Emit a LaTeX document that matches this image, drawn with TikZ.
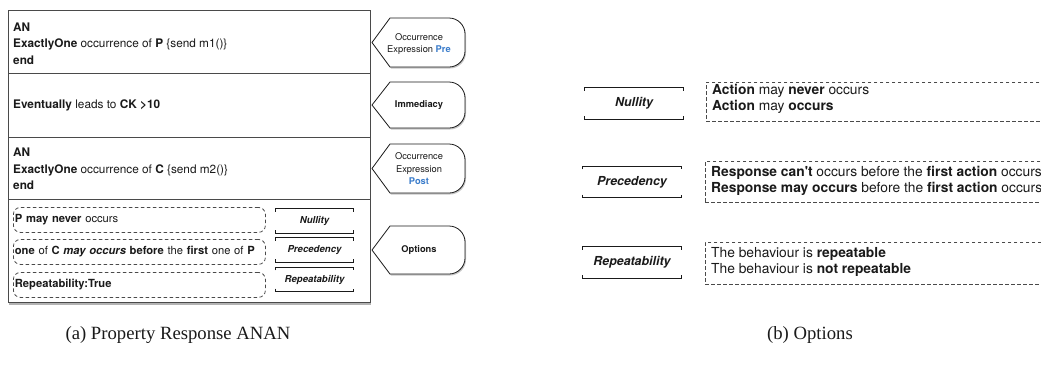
\documentclass[tikz,border=0pt]{standalone}
\usepackage{fontspec}
\newfontfamily\hv{TeX Gyre Heros}
\newfontfamily\capfont{Liberation Serif}
\usetikzlibrary{shadows}
\definecolor{edge}{HTML}{4A4A4A}
\definecolor{kwblue}{HTML}{3A7CCB}
\definecolor{ink}{HTML}{1A1A1A}

% left-pointing tag with a rounded right side: #1 top, #2 bottom
\newcommand\tagshape[2]{%
  \path[tagbox] (372,{(#1+#2)/2}) -- (390,#1) -- (449,#1)
    .. controls (457.8,#1) and (465,{#1+7.2}) .. (465,{#1+16})
    -- (465,{#2-16})
    .. controls (465,{#2-7.2}) and (457.8,#2) .. (449,#2)
    -- (390,#2) -- cycle;}

% top and bottom brackets of an option box
\newcommand\brackets[1]{%
  \draw[brk] ([yshift=-3pt]#1.north west) -- (#1.north west) -- (#1.north east) -- ([yshift=-3pt]#1.north east);
  \draw[brk] ([yshift=3pt]#1.south west) -- (#1.south west) -- (#1.south east) -- ([yshift=3pt]#1.south east);}

\begin{document}
\begin{tikzpicture}[x=1pt,y=-1pt,
  panel/.style={draw=edge, line width=0.7pt},
  tagbox/.style={draw=ink, line width=0.8pt, fill=white,
    drop shadow={shadow xshift=1pt, shadow yshift=-1.5pt, opacity=0.45}},
  tagtext/.style={font=\hv\fontsize{9.3}{12.5}\selectfont, align=center, inner sep=0, text=ink},
  body/.style={font=\hv\fontsize{11.8}{16.5}\selectfont, anchor=west, align=left, inner sep=0, text=ink},
  rbody/.style={font=\hv\fontsize{13.8}{16}\selectfont, anchor=north west, align=left, inner sep=0, text=ink},
  lopt/.style={font=\hv\bfseries\itshape\fontsize{9.6}{11}\selectfont, minimum width=77pt, minimum height=24pt, inner sep=0, text=ink},
  ropt/.style={font=\hv\bfseries\itshape\fontsize{12.4}{14}\selectfont, minimum width=99pt, minimum height=31pt, inner sep=0, text=ink},
  brk/.style={draw=ink, line width=1pt},
  ldash/.style={draw=edge, dashed, dash pattern=on 3.5pt off 2.5pt, line width=0.8pt, rounded corners=7pt,
    font=\hv\fontsize{11.2}{14}\selectfont, text width=249pt, align=left, inner xsep=1.5pt, inner ysep=0,
    minimum height=25pt, anchor=north west, text=ink},
  rdash/.style={draw=edge, dashed, dash pattern=on 3.5pt off 2.5pt, line width=0.8pt, anchor=north west, inner sep=0},
  caption/.style={font=\capfont\fontsize{18.7}{22}\selectfont, inner sep=0, text=ink}
]
\useasboundingbox (0,0) rectangle (1041,368);
\clip (0,0) rectangle (1041,368);

% ---------- (a) property panel ----------
\path[draw=edge, line width=0.7pt, fill=white,
  drop shadow={shadow xshift=1pt, shadow yshift=-2.5pt, opacity=0.6}]
  (8,10) rectangle (370,302);
\draw[panel] (8,73) -- (370,73);
\draw[panel] (8,137) -- (370,137);
\draw[panel] (8,199) -- (370,199);

\node[body] (pre) at (13,43.5)
  {\bfseries AN\\ \textbf{ExactlyOne} occurrence of \textbf{P} \{send m1()\}\\ \bfseries end};
\node[body] (imm) at (13,105) {\textbf{Eventually} leads to \textbf{CK >10}};
\node[body] (post) at (13,169)
  {\bfseries AN\\ \textbf{ExactlyOne} occurrence of \textbf{C} \{send m2()\}\\ \bfseries end};

\node[ldash] (o1) at (13,207) {\textbf{P may never} occurs};
\node[ldash] (o2) at (13,239) {\textbf{one} of \textbf{C} \textbf{\itshape may occurs} \textbf{before} the \textbf{first} one of \textbf{P}};
\node[ldash] (o3) at (13,272) {\textbf{Repeatability:True}};

\node[lopt] (ln) at (314.5,221) {Nullity};
\node[lopt] (lp) at (314.5,250) {Precedency};
\node[lopt] (lr) at (314.5,279.5) {Repeatability};
\brackets{ln}
\brackets{lp}
\brackets{lr}

% tags on the right side of the panel
\tagshape{18}{67}
\tagshape{82}{128}
\tagshape{144}{193}
\tagshape{226}{274}
\node[tagtext] (tpre) at (419,44) {Occurrence\\Expression \textbf{\color{kwblue}Pre}};
\node[tagtext, font=\hv\bfseries\fontsize{9.3}{12.5}\selectfont] (timm) at (419,105.5) {Immediacy};
\node[tagtext] (tpost) at (419,169) {Occurrence\\Expression\\\textbf{\color{kwblue}Post}};
\node[tagtext, font=\hv\bfseries\fontsize{9.3}{12.5}\selectfont] (topt) at (419,250.5) {Options};

% ---------- (b) options panel ----------
\node[ropt] (rn) at (634,103.5) {Nullity};
\node[ropt] (rp) at (632,182) {Precedency};
\node[ropt] (rr) at (632,262.5) {Repeatability};
\brackets{rn}
\brackets{rp}
\brackets{rr}

\node[rdash, minimum width=360pt, minimum height=39pt] (dn) at (706,82) {};
\node[rbody] (tn) at (712,84.5) {\textbf{Action} may \textbf{never} occurs\\ \textbf{Action} may \textbf{occurs}};
\node[rdash, minimum width=360pt, minimum height=41pt] (dp) at (705,161) {};
\node[rbody] (tp) at (711,166) {\textbf{Response can't} occurs before the \textbf{first action} occurs\\ \textbf{Response may occurs} before the \textbf{first action} occurs};
\node[rdash, minimum width=360pt, minimum height=42pt] (dr) at (705,242) {};
\node[rbody] (tr) at (711,247) {The behaviour is \textbf{repeatable}\\ The behaviour is \textbf{not repeatable}};

% ---------- captions ----------
\node[caption] (capa) at (178,335) {(a) Property Response ANAN};
\node[caption] (capb) at (810,335) {(b) Options};
\end{tikzpicture}
\end{document}
